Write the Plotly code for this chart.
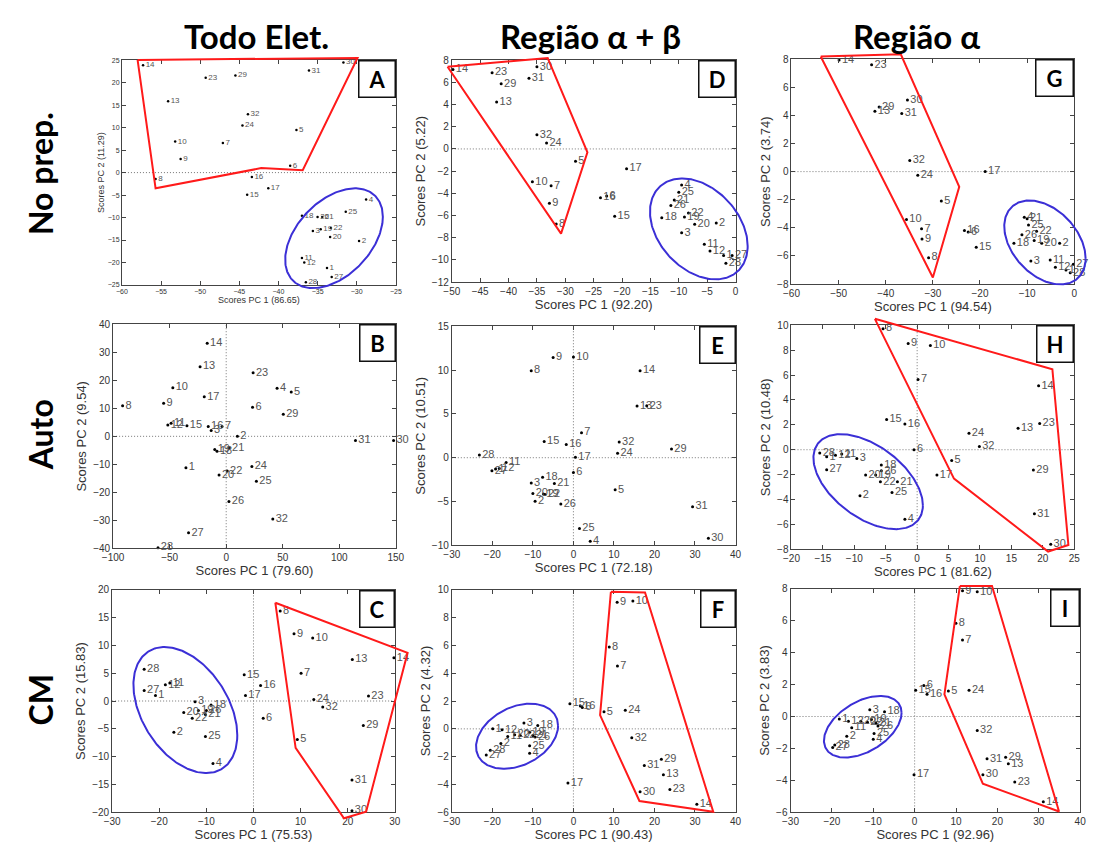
import numpy as np
import plotly.graph_objects as go

FIG_W, FIG_H = 1096, 847

# ---------------- data ----------------
# Panel A : Todo Elet. / No prep.
A_lab = ["14","23","29","31","30","13","32","24","5","10","7","9","6","8","16","17","15","4","25","18","26","21","3","19","22","20","2","11","12","1","27","28"]
A_x = [-57.3,-49.3,-45.5,-36.1,-31.7,-54.1,-43.9,-44.6,-37.7,-53.2,-47.1,-52.5,-38.5,-55.7,-43.4,-41.3,-44.0,-28.8,-31.4,-37.0,-35.0,-34.4,-35.6,-34.6,-33.3,-33.4,-29.7,-37.0,-36.7,-33.8,-33.2,-36.5]
A_y = [23.9,21.1,21.6,22.7,24.5,15.9,13.0,10.5,9.5,6.9,6.6,3.0,1.5,-1.4,-1.0,-3.5,-4.9,-6.0,-8.7,-9.6,-9.9,-9.9,-13.0,-12.6,-12.3,-14.3,-15.2,-19.0,-20.0,-21.2,-23.2,-24.4]
A_poly_x = [-58.0,-29.9,-36.9,-42.2,-55.7,-58.0]
A_poly_y = [25.07,25.5,0.55,1.0,-3.5,25.07]
A_ell = [-32.9,-14.6,6.24,11.1,0.43]   # cx, cy, half-width, half-height, tilt

# Panel D : Região α+β / No prep.
D_lab = ["14","23","29","30","31","13","32","24","5","17","10","7","9","8","16","6","15","4","25","21","26","22","19","18","20","2","3","11","12","1","27","28"]
D_x = [-49.8,-42.9,-41.3,-35.0,-36.4,-42.1,-35.0,-33.3,-28.2,-19.2,-35.8,-32.5,-32.8,-31.6,-23.8,-22.7,-21.3,-9.5,-10.0,-10.8,-11.4,-8.3,-9.0,-13.0,-7.2,-3.4,-9.5,-5.5,-4.5,-2.1,-0.6,-1.7]
D_y = [7.17,6.87,5.87,7.4,6.37,4.24,1.27,0.53,-1.1,-1.78,-2.96,-3.32,-4.89,-6.76,-4.39,-4.24,-6.07,-3.26,-3.9,-4.6,-5.1,-5.78,-6.13,-6.2,-6.8,-6.67,-7.56,-8.6,-9.2,-9.6,-9.6,-10.3]
D_poly_x = [-50.75,-33.1,-26.1,-30.75,-50.75]
D_poly_y = [7.41,8.2,-0.3,-7.64,7.41]
D_ell = [-6.47,-7.21,8.61,4.55,-0.34]

# Panel G : Região α / No prep.
G_lab = ["14","23","29","13","30","31","32","24","17","5","10","7","9","8","16","6","15","4","21","25","22","26","19","18","20","2","3","11","12","1","27","28"]
G_x = [-49.9,-43.0,-41.4,-42.3,-35.4,-36.6,-34.9,-33.2,-18.9,-28.2,-35.6,-32.4,-32.3,-30.9,-23.3,-22.5,-20.8,-10.6,-10.0,-9.7,-8.0,-11.1,-8.5,-12.8,-6.9,-3.1,-9.2,-5.1,-4.0,-1.75,-0.2,-0.85]
G_y = [7.95,7.6,4.6,4.3,5.1,4.13,0.8,-0.26,0.0,-2.1,-3.4,-4.07,-4.8,-6.13,-4.2,-4.3,-5.38,-3.25,-3.35,-3.8,-4.25,-4.5,-4.9,-5.1,-5.1,-5.1,-6.37,-6.3,-6.8,-7.0,-6.6,-7.2]
G_poly_x = [-53.8,-36.8,-24.4,-30.0,-53.8]
G_poly_y = [8.19,8.35,-1.08,-7.54,8.19]
G_ell = [-6.22,-5.04,8.63,2.99,-0.38]

# Panel B : Todo Elet. / Auto
B_lab = ["14","13","23","10","4","5","17","9","8","6","29","11","12","15","16","3","7","2","31","30","19","18","21","1","24","22","20","25","26","32","27","28"]
B_x = [-16.8,-23.1,23.8,-47.2,45.0,57.5,-19.4,-55.3,-91.6,23.3,50.5,-48.7,-51.6,-34.7,-15.9,-13.3,-3.7,9.9,114.3,148.0,-10.1,-8.1,2.7,-35.6,22.7,0.9,-6.3,26.7,2.4,41.2,-33.3,-60.3]
B_y = [33.3,24.9,22.7,17.4,17.2,15.8,14.1,11.8,10.9,10.4,7.9,4.7,4.0,3.8,3.5,2.1,3.5,0.0,-1.5,-1.5,-4.7,-5.3,-4.1,-11.2,-10.8,-12.4,-13.8,-16.1,-23.3,-29.6,-34.5,-39.8]

# Panel E : Região α+β / Auto
E_lab = ["9","10","8","14","13","23","7","15","16","32","29","24","17","28","11","12","1","27","6","18","21","3","5","20","19","22","2","26","31","25","4","30"]
E_x = [-5.0,0.0,-10.4,16.45,15.7,18.1,2.0,-7.2,-1.76,11.3,24.2,10.9,0.5,-23.2,-16.6,-18.3,-19.2,-20.1,0.0,-7.6,-4.7,-10.4,10.3,-10.0,-7.4,-7.0,-9.45,-3.1,29.4,1.5,4.15,33.3]
E_y = [11.44,11.5,9.94,9.94,5.9,5.93,2.86,1.84,1.5,1.8,1.0,0.5,0.04,0.3,-0.55,-1.23,-1.3,-1.5,-1.68,-2.24,-2.95,-2.9,-3.67,-4.1,-4.15,-4.2,-4.98,-5.3,-5.6,-8.1,-9.55,-9.2]

# Panel H : Região α / Auto
H_lab = ["8","9","10","7","14","15","16","23","13","24","32","6","28","1","12","11","3","5","27","18","26","29","20","19","17","22","21","25","2","31","4","30"]
H_x = [-5.43,-1.43,2.1,0.14,19.33,-4.86,-1.95,19.5,16.06,8.25,9.9,-0.5,-15.5,-14.4,-13.0,-12.0,-9.6,5.5,-14.4,-5.7,-5.7,18.5,-8.2,-6.6,3.15,-5.85,-3.14,-4.0,-9.1,18.66,-1.95,21.26]
H_y = [9.74,8.55,8.39,5.64,5.14,2.44,2.07,2.12,1.73,1.33,0.27,0.0,-0.26,-0.57,-0.44,-0.34,-0.7,-0.86,-1.6,-1.23,-1.7,-1.63,-2.03,-2.03,-2.03,-2.58,-2.58,-3.43,-3.7,-5.15,-5.6,-7.6]
H_poly_x = [-6.73,21.52,24.07,20.84,5.86,-6.73]
H_poly_y = [10.53,6.48,-7.66,-8.19,-2.32,10.53]
H_ell = [-7.8,-2.57,8.71,3.82,-0.5]

# Panel C : Todo Elet. / CM
C_lab = ["8","9","10","14","13","28","7","15","11","12","16","27","1","17","23","24","3","18","32","20","19","26","21","22","6","29","2","25","5","4","31","30"]
C_x = [5.67,8.6,12.56,29.8,20.97,-23.2,10.1,-1.97,-17.76,-18.7,1.5,-23.2,-20.8,-1.7,24.4,12.8,-12.4,-9.0,14.7,-14.8,-11.7,-10.0,-10.2,-13.0,2.06,23.3,-16.9,-10.2,9.3,-8.6,20.9,20.9]
C_y = [16.18,12.06,11.3,7.76,7.47,5.7,5.0,4.7,3.24,2.9,2.8,1.9,1.0,1.0,0.88,0.29,-0.12,-0.7,-1.06,-2.06,-1.7,-1.7,-2.4,-3.1,-3.1,-4.4,-5.6,-6.35,-6.9,-11.2,-14.2,-19.7]
C_poly_x = [4.63,32.7,23.9,19.2,8.94,4.63]
C_poly_y = [17.65,8.65,-19.88,-21.06,-8.41,17.65]
C_ell = [-14.46,-1.62,11.02,11.32,-0.40]

# Panel F : Região α+β / CM
F_lab = ["9","10","8","7","15","16","6","5","24","3","18","1","12","11","20","22","19","21","26","2","25","4","28","27","32","29","31","13","17","23","30","14"]
F_x = [10.79,14.67,8.84,10.87,-0.87,1.72,2.2,7.55,12.8,-12.2,-8.8,-19.9,-17.6,-16.2,-14.5,-13.1,-10.8,-10.0,-9.45,-17.9,-10.8,-10.8,-20.5,-21.5,14.4,21.7,17.5,22.2,-1.35,23.8,16.45,30.45]
F_y = [9.1,9.18,5.88,4.52,1.81,1.65,1.53,1.22,1.34,0.42,0.24,0.0,-0.07,-0.54,-0.42,-0.47,-0.24,-0.47,-0.59,-1.06,-1.22,-1.76,-1.53,-1.88,-0.64,-2.19,-2.64,-3.29,-3.88,-4.35,-4.52,-5.41]
F_poly_x = [9.25,17.67,34.5,16.29,6.58,9.25]
F_poly_y = [9.84,9.79,-5.95,-5.18,0.99,9.84]
F_ell = [-13.9,-0.53,10.12,2.34,0.32]

# Panel I : Região α / CM
I_lab = ["9","10","8","7","6","15","16","5","24","18","3","1","12","20","22","19","21","26","11","2","25","4","28","27","32","29","31","13","17","30","23","14"]
I_x = [11.57,15.13,9.98,11.57,2.22,0.25,3.0,8.16,13.15,-7.28,-10.84,-18.2,-16.0,-13.0,-11.4,-10.44,-9.33,-8.86,-15.2,-16.4,-9.8,-10.0,-19.3,-19.8,15.13,22.0,17.5,22.65,-0.15,16.5,24.2,31.1]
I_y = [7.86,7.8,5.84,4.78,1.94,1.64,1.39,1.6,1.64,0.3,0.42,-0.15,-0.29,-0.29,-0.36,-0.19,-0.42,-0.6,-0.7,-1.24,-1.07,-1.42,-1.79,-1.94,-0.87,-2.55,-2.65,-2.96,-3.64,-3.64,-4.09,-5.34]
I_poly_x = [10.93,18.7,34.9,16.48,7.2,10.93]
I_poly_y = [8.16,8.16,-5.94,-4.2,1.39,8.16]
I_ell = [-12.54,-0.64,9.38,1.93,0.45]

col_titles = ["Todo Elet.", "Região α + β", "Região α"]
row_titles = ["No prep.", "Auto", "CM"]

# ---------------- panel setup ----------------
panels = [
    dict(key="A", lab=A_lab, x=A_x, y=A_y, poly=(A_poly_x, A_poly_y), ell=A_ell,
         xr=[-60, -25], xt=list(range(-60, -24, 5)), yr=[-25, 25], yt=list(range(-25, 26, 5)),
         xtitle="Scores PC 1 (86.65)", ytitle="Scores PC 2 (11.29)",
         rect=(113, 392, 55, 283), small=True, vzero=False, boxw=33),
    dict(key="D", lab=D_lab, x=D_x, y=D_y, poly=(D_poly_x, D_poly_y), ell=D_ell,
         xr=[-50, 0], xt=list(range(-50, 1, 5)), yr=[-12, 8], yt=list(range(-12, 9, 2)),
         xtitle="Scores PC 1 (92.20)", ytitle="Scores PC 2 (5.22)",
         rect=(449, 738, 55, 280), small=False, vzero=False, boxw=33),
    dict(key="G", lab=G_lab, x=G_x, y=G_y, poly=(G_poly_x, G_poly_y), ell=G_ell,
         xr=[-60, 0], xt=list(range(-60, 1, 10)), yr=[-8, 8], yt=list(range(-8, 9, 2)),
         xtitle="Scores PC 1 (94.54)", ytitle="Scores PC 2 (3.74)",
         rect=(795, 1083, 54, 282), small=False, vzero=False, boxw=34),
    dict(key="B", lab=B_lab, x=B_x, y=B_y, poly=None, ell=None,
         xr=[-100, 150], xt=list(range(-100, 151, 50)), yr=[-40, 40], yt=list(range(-40, 41, 10)),
         xtitle="Scores PC 1 (79.60)", ytitle="Scores PC 2 (9.54)",
         rect=(104, 392, 323, 550), small=False, vzero=True, boxw=32),
    dict(key="E", lab=E_lab, x=E_x, y=E_y, poly=None, ell=None,
         xr=[-30, 40], xt=list(range(-30, 41, 10)), yr=[-10, 15], yt=list(range(-10, 16, 5)),
         xtitle="Scores PC 1 (72.18)", ytitle="Scores PC 2 (10.51)",
         rect=(449, 738, 325, 547), small=False, vzero=True, boxw=32),
    dict(key="H", lab=H_lab, x=H_x, y=H_y, poly=(H_poly_x, H_poly_y), ell=H_ell,
         xr=[-20, 25], xt=list(range(-20, 26, 5)), yr=[-8, 10], yt=list(range(-8, 11, 2)),
         xtitle="Scores PC 1 (81.62)", ytitle="Scores PC 2 (10.48)",
         rect=(795, 1083, 324, 551), small=False, vzero=True, boxw=33),
    dict(key="C", lab=C_lab, x=C_x, y=C_y, poly=(C_poly_x, C_poly_y), ell=C_ell,
         xr=[-30, 30], xt=list(range(-30, 31, 10)), yr=[-20, 20], yt=list(range(-20, 21, 5)),
         xtitle="Scores PC 1 (75.53)", ytitle="Scores PC 2 (15.83)",
         rect=(103, 391, 592, 818), small=False, vzero=True, boxw=31),
    dict(key="F", lab=F_lab, x=F_x, y=F_y, poly=(F_poly_x, F_poly_y), ell=F_ell,
         xr=[-30, 40], xt=list(range(-30, 41, 10)), yr=[-6, 10], yt=list(range(-6, 11, 2)),
         xtitle="Scores PC 1 (90.43)", ytitle="Scores PC 2 (4.32)",
         rect=(449, 738, 592, 818), small=False, vzero=True, boxw=31),
    dict(key="I", lab=I_lab, x=I_x, y=I_y, poly=(I_poly_x, I_poly_y), ell=I_ell,
         xr=[-30, 40], xt=list(range(-30, 41, 10)), yr=[-6, 8], yt=list(range(-6, 9, 2)),
         xtitle="Scores PC 1 (92.96)", ytitle="Scores PC 2 (3.83)",
         rect=(794, 1089, 591, 818), small=False, vzero=True, boxw=25),
]

AXIS_COL = "#444444"
TXT_COL = "#333333"
LBL_COL = "#555555"
RED = "#ff1a1a"
BLUE = "#3b2fd6"
PAD = 18  # px of extra room for the outline overlays


def ax_name(kind, n):
    return kind + "axis" if n == 1 else f"{kind}axis{n}"


def ax_ref(kind, n):
    return kind if n == 1 else f"{kind}{n}"


fig = go.Figure()
layout = {}
shapes = []
annotations = []

for i, p in enumerate(panels):
    n = i + 1          # main axes
    m = i + 10         # overlay axes for outlines
    x0, x1, y0, y1 = p["rect"]
    dx = [x0 / FIG_W, x1 / FIG_W]
    dy = [1 - y1 / FIG_H, 1 - y0 / FIG_H]
    small = p["small"]
    tick_sz = 7 if small else 10
    title_sz = 9 if small else 13
    lbl_sz = 8 if small else 11

    common = dict(showline=True, linecolor=AXIS_COL, linewidth=1, mirror="allticks",
                  ticks="inside", ticklen=4, tickcolor=AXIS_COL, showgrid=False,
                  zeroline=False, fixedrange=True,
                  tickfont=dict(family="Liberation Sans", size=tick_sz, color=TXT_COL))
    layout[ax_name("x", n)] = dict(common, domain=dx, range=p["xr"], tickvals=p["xt"],
                                   anchor=ax_ref("y", n),
                                   title=dict(text=p["xtitle"], standoff=2 if not small else 0,
                                              font=dict(family="Liberation Sans", size=title_sz, color=TXT_COL)))
    layout[ax_name("y", n)] = dict(common, domain=dy, range=p["yr"], tickvals=p["yt"],
                                   anchor=ax_ref("x", n),
                                   title=dict(text=p["ytitle"], standoff=3 if not small else 1,
                                              font=dict(family="Liberation Sans", size=title_sz, color=TXT_COL)))

    # overlay axes with the same scale, extended domain so outlines are not clipped
    sx = (p["xr"][1] - p["xr"][0]) / (dx[1] - dx[0])
    sy = (p["yr"][1] - p["yr"][0]) / (dy[1] - dy[0])
    e_x, e_y = PAD / FIG_W, PAD / FIG_H
    ndx = [max(0.0, dx[0] - e_x), min(1.0, dx[1] + e_x)]
    ndy = [max(0.0, dy[0] - e_y), min(1.0, dy[1] + e_y)]
    layout[ax_name("x", m)] = dict(domain=ndx, visible=False, fixedrange=True, anchor=ax_ref("y", m),
                                   range=[p["xr"][0] - (dx[0] - ndx[0]) * sx, p["xr"][1] + (ndx[1] - dx[1]) * sx])
    layout[ax_name("y", m)] = dict(domain=ndy, visible=False, fixedrange=True, anchor=ax_ref("x", m),
                                   range=[p["yr"][0] - (dy[0] - ndy[0]) * sy, p["yr"][1] + (ndy[1] - dy[1]) * sy])

    # dotted zero lines
    shapes.append(dict(type="line", xref=ax_ref("x", n) + " domain", x0=0, x1=1,
                       yref=ax_ref("y", n), y0=0, y1=0, layer="below",
                       line=dict(color="#777777", width=1, dash="1px,2px")))
    if p["vzero"]:
        shapes.append(dict(type="line", yref=ax_ref("y", n) + " domain", y0=0, y1=1,
                           xref=ax_ref("x", n), x0=0, x1=0, layer="below",
                           line=dict(color="#777777", width=1, dash="1px,2px")))

    # outlines
    if p["poly"] is not None:
        fig.add_trace(go.Scatter(x=p["poly"][0], y=p["poly"][1], mode="lines",
                                 line=dict(color=RED, width=2), hoverinfo="skip", showlegend=False,
                                 xaxis=ax_ref("x", m), yaxis=ax_ref("y", m)))
    if p["ell"] is not None:
        cx, cy, hw, hh, r = p["ell"]
        t = np.linspace(0, 2 * np.pi, 241)
        ex = cx + hw * np.cos(t)
        ey = cy + hh * np.cos(t - np.arccos(r))
        fig.add_trace(go.Scatter(x=ex, y=ey, mode="lines", line=dict(color=BLUE, width=2),
                                 hoverinfo="skip", showlegend=False,
                                 xaxis=ax_ref("x", m), yaxis=ax_ref("y", m)))

    # points
    fig.add_trace(go.Scatter(x=p["x"], y=p["y"], mode="markers+text", text=p["lab"],
                             textposition="middle right",
                             textfont=dict(family="Liberation Sans", size=lbl_sz, color=LBL_COL),
                             marker=dict(color="black", size=3 if not small else 2.5),
                             cliponaxis=False, showlegend=False,
                             xaxis=ax_ref("x", n), yaxis=ax_ref("y", n)))

    # panel letter box
    annotations.append(dict(text=f"<b>{p['key']}</b>", xref=ax_ref("x", n) + " domain",
                            yref=ax_ref("y", n) + " domain", x=1, y=1, xanchor="right", yanchor="top",
                            showarrow=False, width=p["boxw"], height=33, bgcolor="white",
                            bordercolor="#111111", borderwidth=1.5, borderpad=1,
                            font=dict(family="Lato", size=22, color="black")))

# column and row titles
col_x = [250, 590, 922]
for t, xc in zip(col_titles, col_x):
    annotations.append(dict(text=f"<b>{t}</b>", xref="paper", yref="paper", x=xc / FIG_W,
                            y=1 - 30 / FIG_H, xanchor="center", yanchor="middle", showarrow=False,
                            font=dict(family="Lato", size=33, color="black")))
row_y = [170, 435, 704]
for t, yc in zip(row_titles, row_y):
    annotations.append(dict(text=f"<b>{t}</b>", xref="paper", yref="paper", x=30 / FIG_W,
                            y=1 - yc / FIG_H, xanchor="center", yanchor="middle", showarrow=False,
                            textangle=-90, font=dict(family="Lato", size=32, color="black")))

fig.update_layout(**layout)
fig.update_layout(width=FIG_W, height=FIG_H, margin=dict(l=0, r=0, t=0, b=0),
                  paper_bgcolor="white", plot_bgcolor="rgba(0,0,0,0)", showlegend=False,
                  shapes=shapes, annotations=annotations)

fig.write_html("out.html")
